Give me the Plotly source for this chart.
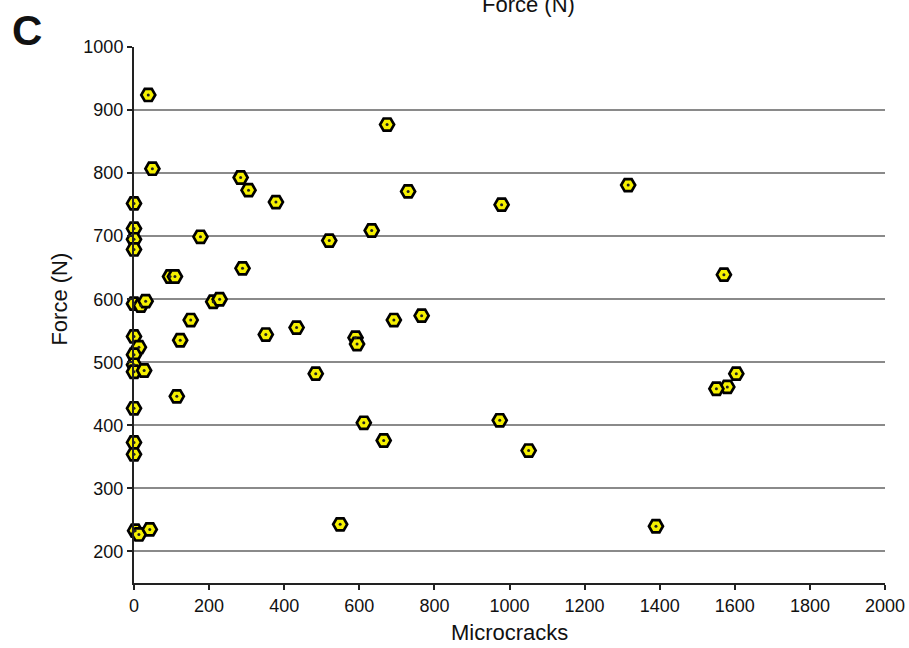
import plotly.graph_objects as go

microcracks = [38, 49, 0, 0, 0, 0, 284, 305, 378, 177, 520, 674, 730, 979, 633, 1316,
               96, 109, 289, 0, 18, 31, 211, 228, 151, 123, 351, 433, 0, 13, 0, 0, 0, 27,
               484, 114, 0, 0, 0, 590, 594, 692, 766, 612, 974, 665, 1051, 549, 1390,
               3, 13, 42, 1571, 1604, 1580, 1551]
force = [924, 807, 752, 712, 695, 679, 793, 773, 754, 699, 693, 877, 771, 750, 709, 781,
         636, 636, 649, 593, 590, 597, 596, 600, 567, 535, 544, 555, 541, 524, 512, 496, 485, 487,
         482, 446, 427, 373, 354, 539, 529, 567, 574, 404, 408, 376, 360, 243, 240,
         233, 227, 235, 639, 482, 461, 458]

x_ticks = list(range(0, 2001, 200))
y_ticks = list(range(200, 1001, 100))

FONT = "Liberation Sans, Arial, sans-serif"

fig = go.Figure()
fig.add_trace(go.Scatter(
    x=microcracks, y=force, mode="markers", cliponaxis=False,
    marker=dict(symbol="hexagon2", size=14, color="#f5f000",
                line=dict(color="black", width=2.7)),
    showlegend=False, hoverinfo="skip"))
fig.add_trace(go.Scatter(
    x=microcracks, y=force, mode="markers", cliponaxis=False,
    marker=dict(symbol="circle", size=3, color="#222"),
    showlegend=False, hoverinfo="skip"))

fig.update_layout(
    width=909, height=648,
    margin=dict(l=134, r=24, t=47, b=65, autoexpand=False),
    paper_bgcolor="white", plot_bgcolor="white",
    font=dict(family=FONT, color="#111"),
    xaxis=dict(range=[0, 2000], tickvals=x_ticks, ticktext=[str(v) for v in x_ticks],
               automargin=False, ticklabeloverflow="allow",
               showgrid=False, zeroline=False, showline=True, linecolor="#222", linewidth=2,
               ticks="outside", ticklen=5, tickwidth=2, tickcolor="#222",
               tickfont=dict(size=18, family=FONT, color="#111")),
    yaxis=dict(range=[150, 1000], tickvals=y_ticks, ticktext=[str(v) for v in y_ticks],
               automargin=False,
               showgrid=True, gridcolor="#8a8a8a", gridwidth=1.5, zeroline=False,
               showline=True, linecolor="#222", linewidth=2,
               ticks="outside", ticklen=5, tickwidth=2, tickcolor="#222",
               tickfont=dict(size=18, family=FONT, color="#111")),
    annotations=[
        dict(text="Microcracks", xref="paper", yref="paper", x=0.5, y=-0.093,
             xanchor="center", yanchor="middle", showarrow=False,
             font=dict(size=22, family=FONT, color="#111")),
        dict(text="Force (N)", xref="paper", yref="paper", x=-0.099, y=0.53,
             xanchor="center", yanchor="middle", textangle=-90, showarrow=False,
             font=dict(size=22, family=FONT, color="#111")),
        dict(text="Force (N)", xref="paper", yref="paper", x=0.525, y=1.080,
             xanchor="center", yanchor="middle", showarrow=False,
             font=dict(size=22, family=FONT, color="#111")),
        dict(text="<b>C</b>", xref="paper", yref="paper", x=-0.143, y=1.03,
             xanchor="center", yanchor="middle", showarrow=False,
             font=dict(size=42, family=FONT, color="#111")),
    ],
)

fig.write_html("out.html", config={"displayModeBar": False},
               post_script="document.body.style.margin='0px';document.body.style.overflow='hidden';")
